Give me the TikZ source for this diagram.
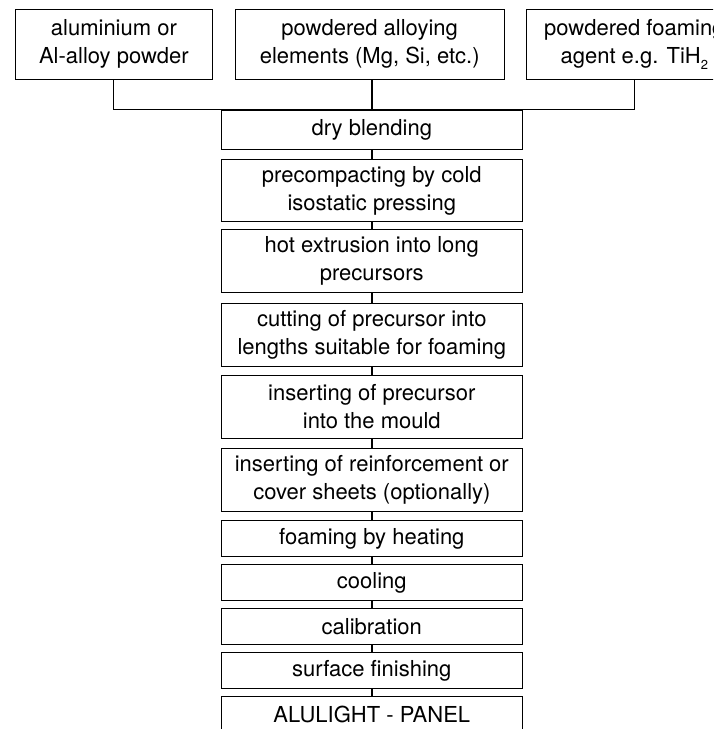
\documentclass[tikz,border=0pt]{standalone}
\usepackage{fontspec}
\setmainfont{TeX Gyre Heros}
\begin{document}
\begin{tikzpicture}[x=1pt,y=-1pt,
  stepbox/.style={draw, line width=1pt, inner sep=0pt, align=center,
    minimum width=301.5pt, font=\fontsize{22}{28}\selectfont},
  srcbox/.style={draw, line width=1pt, inner sep=0pt, align=center,
    minimum height=70.5pt, font=\fontsize{22}{28}\selectfont},
  thinline/.style={line width=1pt},
  thickline/.style={line width=2pt}]
\useasboundingbox (0,0) rectangle (713,729);
\clip (0,0) rectangle (713,729);
% source boxes
\node[srcbox, minimum width=197.7pt] (src1) at (113.9,44.3) {aluminium or\\Al-alloy powder};
\node[srcbox, minimum width=269.3pt] (src2) at (369.7,44.3) {powdered alloying\\elements (Mg, Si, etc.)};
\node[srcbox, minimum width=215pt] (src3) at (634.3,44.3) {powdered foaming\\agent e.g. TiH\raisebox{-6pt}{\fontsize{13}{13}\selectfont 2}};
% process steps
\node[stepbox, minimum height=39pt] (s1) at (371.8,129.5) {dry blending};
\node[stepbox, minimum height=62.4pt] (s2) at (371.8,190.5) {precompacting by cold\\isostatic pressing};
\node[stepbox, minimum height=62.7pt] (s3) at (371.8,261.3) {hot extrusion into long\\precursors};
\node[stepbox, minimum height=63.4pt] (s4) at (371.8,335) {cutting of precursor into\\lengths suitable for foaming};
\node[stepbox, minimum height=63pt] (s5) at (371.8,406.8) {inserting of precursor\\into the mould};
\node[stepbox, minimum height=62.7pt] (s6) at (371.8,480.3) {inserting of reinforcement or\\cover sheets (optionally)};
\node[stepbox, minimum height=36pt] (s7) at (371.8,538.7) {foaming by heating};
\node[stepbox, minimum height=36pt] (s8) at (371.8,582.7) {cooling};
\node[stepbox, minimum height=36pt] (s9) at (371.8,626.3) {calibration};
\node[stepbox, minimum height=35.6pt] (s10) at (371.8,670.5) {surface finishing};
\node[stepbox, minimum height=36pt] (s11) at (371.8,714.7) {ALULIGHT - PANEL};
% connectors
\draw[thinline] (src1.south) |- (s1.north) -| (src3.south);
\draw[thickline] (src2.south -| s1.north) -- (s1.north);
\foreach \a/\b in {s1/s2,s2/s3,s3/s4,s4/s5,s5/s6,s6/s7,s7/s8,s8/s9,s9/s10,s10/s11}
  \draw[thickline] (\a.south) -- (\b.north);
\end{tikzpicture}
\end{document}
